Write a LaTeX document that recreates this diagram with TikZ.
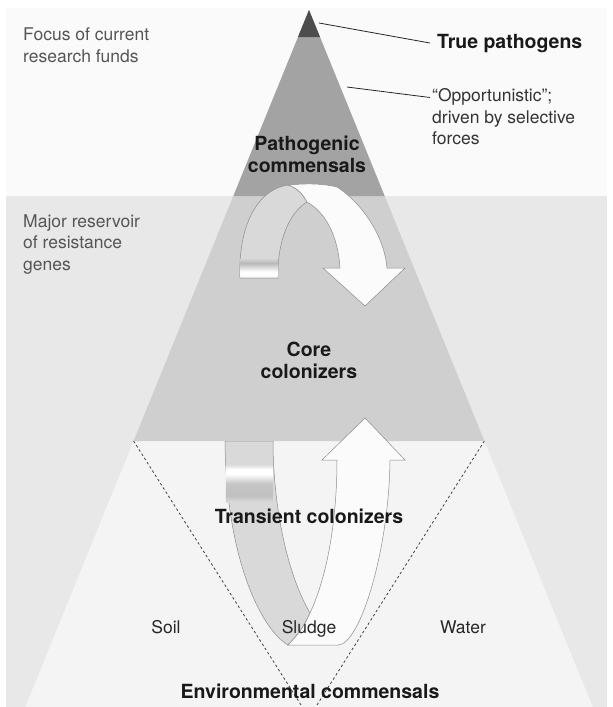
\documentclass[tikz,border=0pt]{standalone}
\usepackage{fontspec}
\setmainfont{TeX Gyre Heros}

\definecolor{paper}{HTML}{FAFAFA}
\definecolor{band}{HTML}{E8E8E8}
\definecolor{envzone}{HTML}{F4F4F4}
\definecolor{corezone}{HTML}{CFCFCF}
\definecolor{pathzone}{HTML}{A3A3A3}
\definecolor{tipzone}{HTML}{4D4D4D}
\definecolor{backface}{HTML}{D9D9D9}
\definecolor{frontface}{HTML}{FBFBFB}
\definecolor{edgegray}{HTML}{8C8C8C}
\definecolor{notegray}{HTML}{555555}

% metal strips on the ribbons
\pgfdeclareverticalshading{ribbontop}{100bp}{color(0bp)=(gray!35); color(25bp)=(gray!35);
  color(30bp)=(white); color(40bp)=(white); color(62bp)=(gray!55); color(75bp)=(backface); color(100bp)=(backface)}
\pgfdeclareverticalshading{ribbonlow}{100bp}{color(0bp)=(backface); color(25bp)=(backface);
  color(33bp)=(gray!50); color(48bp)=(gray!45); color(60bp)=(white); color(66bp)=(white);
  color(72bp)=(gray!30); color(75bp)=(backface); color(100bp)=(backface)}

\tikzset{
  note/.style={font=\fontsize{17.5}{21.5}\selectfont, text=notegray, inner sep=0pt, align=left},
  zonelabel/.style={font=\fontsize{19.5}{22}\selectfont\bfseries, text=black!90, inner sep=0pt, align=center},
  place/.style={font=\fontsize{17.5}{21.5}\selectfont, text=black!85, inner sep=0pt},
  leader/.style={draw=black!85, line width=0.8pt},
  split/.style={draw=black!75, line width=0.8pt, dash pattern=on 2.5pt off 2.5pt},
  backside/.style={fill=backface, draw=edgegray, line width=0.5pt},
  frontside/.style={fill=frontface, draw=edgegray, line width=0.5pt}
}

\begin{document}
\begin{tikzpicture}[x=1pt,y=-1pt]
  \useasboundingbox (0,0) rectangle (613,707);
  \fill[white] (0,0) rectangle (613,707);

  % background panels
  \fill[paper] (6,8) rectangle (607,196);
  \fill[band] (6,196) rectangle (607,707);

  % environmental part of the pyramid
  \fill[envzone] (133.6,441) -- (484.4,441) -- (592.7,707) -- (25.3,707) -- cycle;

  % lower ribbon, back side (goes behind the core zone)
  \path[backside] (225,441) .. controls (226,560) and (262,630) .. (288,645)
    .. controls (297,636) and (305,625) .. (310,613)
    .. controls (285,570) and (273,500) .. (273,441) -- cycle;
  \shade[shading=ribbonlow] (225.8,462) rectangle (272.8,502);

  % core and pathogen zones
  \fill[corezone] (233.3,196) -- (384.7,196) -- (484.4,441) -- (133.6,441) -- cycle;
  \fill[pathzone] (309,10) -- (384.7,196) -- (233.3,196) -- cycle;
  \fill[tipzone] (309,10) -- (320,37) -- (298,37) -- cycle;

  % soil | sludge | water
  \coordinate (soilTop) at (133.6,441);
  \coordinate (soilEnd) at (302.3,707);
  \coordinate (waterTop) at (484.4,441);
  \coordinate (waterEnd) at (315.7,707);
  \draw[split] (soilTop) -- (soilEnd);
  \draw[split] (waterTop) -- (waterEnd);

  % lower ribbon, front side with arrow head
  \path[frontside] (288,645) .. controls (297,636) and (305,625) .. (310,613)
    .. controls (330,570) and (337,510) .. (337,460) -- (322,460) -- (365,418)
    -- (405,460) -- (390,460) .. controls (389,550) and (360,645) .. (338,645) -- cycle;

  % upper ribbon
  \path[backside] (240,278) .. controls (238,230) and (255,190) .. (288,185)
    .. controls (298,188) and (303,195) .. (307,202)
    .. controls (290,212) and (277,240) .. (278,278) -- cycle;
  \shade[shading=ribbontop] (240.6,258) rectangle (277.4,277.7);
  \path[frontside] (288,185) .. controls (310,183) and (325,184) .. (337,187)
    .. controls (365,205) and (385,240) .. (387,268) -- (405,268) -- (365,306)
    -- (323,268) -- (340,268) .. controls (338,235) and (325,212) .. (307,202)
    .. controls (303,195) and (298,188) .. (288,185) -- cycle;

  % left notes
  \node[note, anchor=north west] (focus) at (23,27.5) {Focus of current\\research funds};
  \node[note, anchor=north west] (reservoir) at (23,214.5) {Major reservoir\\of resistance\\genes};

  % right notes with leaders
  \node[zonelabel, anchor=base west] (truepath) at (437,48) {True pathogens};
  \node[note, text=black!80, anchor=north west] (oppo) at (432,88.5) {“Opportunistic”;\\driven by selective\\forces};
  \coordinate (tipPoint) at (319,23);
  \coordinate (flankPoint) at (347,87);
  \draw[leader] (tipPoint) -- ([xshift=-7pt]truepath.west);
  \draw[leader] (flankPoint) -- ([xshift=-2pt,yshift=-9pt]oppo.north west);

  % zone names
  \node[zonelabel, anchor=north] (pathcom) at (307,136) {Pathogenic\\commensals};
  \node[zonelabel, anchor=north] (corecol) at (309,342) {Core\\colonizers};
  \node[zonelabel, anchor=base] (transcol) at (309,523) {Transient colonizers};
  \node[place, anchor=base] (soil) at (166,633) {Soil};
  \node[place, anchor=base] (sludge) at (309,633) {Sludge};
  \node[place, anchor=base] (water) at (463,633) {Water};
  \node[zonelabel, anchor=base] (envcom) at (310,698) {Environmental commensals};
\end{tikzpicture}
\end{document}
